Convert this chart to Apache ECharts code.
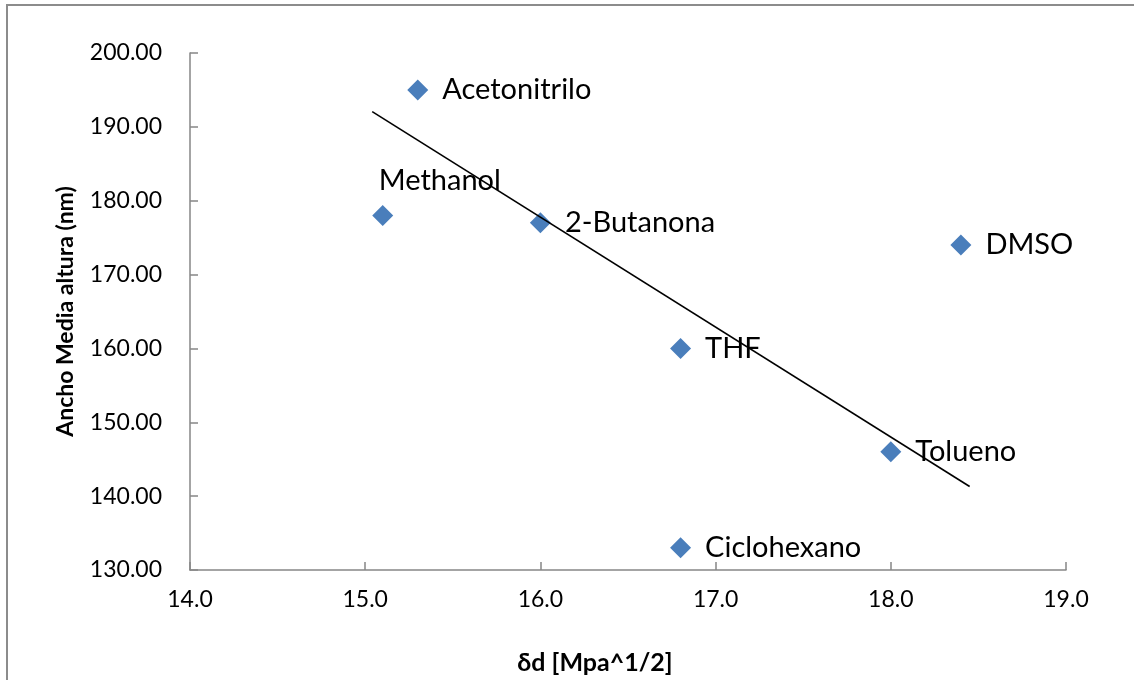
<!DOCTYPE html>
<html>
<head>
<meta charset="utf-8">
<script src="https://cdn.jsdelivr.net/npm/echarts@6/dist/echarts.min.js"></script>
<style>
  html, body { margin: 0; padding: 0; background: #fff; }
  #chart { width: 1134px; height: 680px; }
</style>
</head>
<body>
<div id="chart"></div>
<script>
// Solvents: dispersion parameter δd vs. half-height width
const solvents = ['Acetonitrilo', 'Methanol', '2-Butanona', 'DMSO', 'THF', 'Tolueno', 'Ciclohexano'];
const deltaD   = [15.3, 15.1, 16.0, 18.4, 16.8, 18.0, 16.8];
const width    = [195, 178, 177, 174, 160, 146, 133];
// Linear trendline end points (x, y)
const trendX = [15.04, 18.45];
const trendY = [192.07, 141.3];

const FONT = 'Lato';
const labelTop = new Set(['Methanol']);

const points = solvents.map((name, i) => {
  const p = { name: name, value: [deltaD[i], width[i]] };
  if (labelTop.has(name)) {
    p.label = { position: 'top', align: 'left', offset: [-4, 4] };
  }
  return p;
});

const chart = echarts.init(document.getElementById('chart'), null, { renderer: 'canvas' });
chart.setOption({
  backgroundColor: '#fff',
  animation: false,
  graphic: [{
    type: 'rect',
    shape: { x: 7, y: 5, width: 1200, height: 800 },
    style: { fill: 'none', stroke: '#8c8c8c', lineWidth: 2 },
    silent: true
  }],
  grid: { left: 190, right: 68, top: 53, bottom: 109 },
  xAxis: {
    type: 'value', min: 14, max: 19, interval: 1,
    name: 'δd [Mpa^1/2]', nameLocation: 'middle', nameGap: 80,
    nameTextStyle: { fontFamily: FONT, fontSize: 25, fontWeight: 'bold', color: '#000',
                     padding: [0, 66, 0, 0] },
    axisLine: { lineStyle: { color: '#868686', width: 1.5 } },
    axisTick: { show: true, inside: true, length: 8, lineStyle: { color: '#868686', width: 1.5 } },
    axisLabel: { fontFamily: FONT, fontSize: 23, color: '#000', margin: 18,
                 formatter: v => v.toFixed(1) },
    splitLine: { show: false }
  },
  yAxis: {
    type: 'value', min: 130, max: 200, interval: 10,
    name: 'Ancho Media altura (nm)', nameLocation: 'middle', nameGap: 113, nameRotate: 90,
    nameTextStyle: { fontFamily: FONT, fontSize: 23, fontWeight: 'bold', color: '#000' },
    axisLine: { show: true, lineStyle: { color: '#868686', width: 1.5 } },
    axisTick: { show: true, inside: true, length: 8, lineStyle: { color: '#868686', width: 1.5 } },
    axisLabel: { fontFamily: FONT, fontSize: 23, color: '#000', margin: 28,
                 formatter: v => v.toFixed(2) },
    splitLine: { show: false }
  },
  series: [
    {
      type: 'line',
      data: trendX.map((x, i) => [x, trendY[i]]),
      symbol: 'none',
      lineStyle: { color: '#000', width: 1.6 },
      z: 3,
      silent: true
    },
    {
      type: 'scatter',
      data: points,
      symbol: 'diamond',
      symbolSize: 21,
      itemStyle: { color: '#4A7EBB', opacity: 1 },
      z: 2,
      label: {
        show: true,
        position: 'right',
        distance: 14,
        formatter: p => p.name,
        fontFamily: FONT, fontSize: 29, color: '#000'
      }
    }
  ]
});
</script>
</body>
</html>
